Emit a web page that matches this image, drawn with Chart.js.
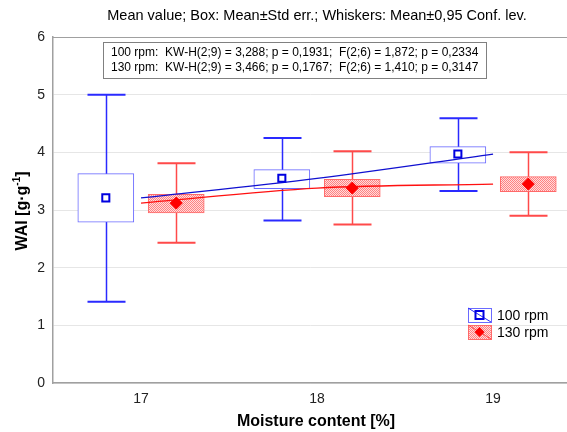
<!DOCTYPE html>
<html><head><meta charset="utf-8">
<script src="https://cdn.jsdelivr.net/npm/chart.js@4"></script>
<style>html,body{margin:0;padding:0;background:#fff;overflow:hidden}#wrap{width:567px;height:432px}</style>
</head><body><div id="wrap"><canvas id="c" width="567" height="432"></canvas></div>
<script>
const categories = [17, 18, 19];
const seriesNames = ['100 rpm', '130 rpm'];
const mean100 = [3.21, 3.55, 3.97];
const seLow100 = [2.79, 3.37, 3.81];
const seHigh100 = [3.63, 3.70, 4.10];
const ciLow100 = [1.41, 2.82, 3.33];
const ciHigh100 = [5.00, 4.25, 4.59];
const mean130 = [3.12, 3.38, 3.45];
const seLow130 = [2.95, 3.23, 3.32];
const seHigh130 = [3.27, 3.53, 3.58];
const ciLow130 = [2.43, 2.75, 2.90];
const ciHigh130 = [3.81, 4.02, 4.00];
const yTicks = [0, 1, 2, 3, 4, 5, 6];
const titleText = 'Mean value; Box: Mean\u00b1Std err.; Whiskers: Mean\u00b10,95 Conf. lev.';
const statLines = [
  '100 rpm:  KW-H(2;9) = 3,288; p = 0,1931;  F(2;6) = 1,872; p = 0,2334',
  '130 rpm:  KW-H(2;9) = 3,466; p = 0,1767;  F(2;6) = 1,410; p = 0,3147'
];
const shift = 0.2;

const BLUE = '#2a2aff', BLUEBOX = '#6a6aff', RED = '#ff4a4a', REDBOX = '#ff6a6a';

function makePattern() {
  const p = document.createElement('canvas');
  p.width = 2; p.height = 2;
  const g = p.getContext('2d');
  g.fillStyle = '#ffdcdc'; g.fillRect(0, 0, 2, 2);
  g.fillStyle = '#ff8282'; g.fillRect(0, 0, 1, 1); g.fillRect(1, 1, 1, 1);
  return document.getElementById('c').getContext('2d').createPattern(p, 'repeat');
}
const redPattern = makePattern();

const FONT = '"Liberation Sans", Arial, sans-serif';

const decor = {
  id: 'decor',
  beforeDatasetsDraw(chart) {
    const ctx = chart.ctx, x = chart.scales.x, y = chart.scales.y;
    const draw = (lo, hi, off, col) => {
      ctx.save(); ctx.strokeStyle = col;
      categories.forEach((c, i) => {
        const px = Math.round(x.getPixelForValue(c + off)) + 0.5;
        const pl = y.getPixelForValue(lo[i]), ph = y.getPixelForValue(hi[i]);
        ctx.lineWidth = 1.5;
        ctx.beginPath(); ctx.moveTo(px, pl); ctx.lineTo(px, ph); ctx.stroke();
        ctx.lineWidth = 2;
        ctx.beginPath(); ctx.moveTo(px - 19, pl); ctx.lineTo(px + 19, pl);
        ctx.moveTo(px - 19, ph); ctx.lineTo(px + 19, ph); ctx.stroke();
      });
      ctx.restore();
    };
    draw(ciLow100, ciHigh100, -shift, BLUE);
    draw(ciLow130, ciHigh130, shift, RED);
  },
  afterDraw(chart) {
    const ctx = chart.ctx, a = chart.chartArea;
    ctx.save();
    ctx.strokeStyle = '#a0a0a0'; ctx.lineWidth = 1;
    ctx.beginPath(); ctx.moveTo(a.left, a.top + 0.5); ctx.lineTo(a.right, a.top + 0.5); ctx.stroke();
    ctx.fillStyle = '#000'; ctx.font = '14.5px ' + FONT;
    ctx.textAlign = 'center'; ctx.textBaseline = 'middle';
    ctx.fillText(titleText, 317, 16);
    ctx.fillStyle = '#fff'; ctx.fillRect(103, 42, 383, 37);
    ctx.strokeStyle = '#808080'; ctx.lineWidth = 1;
    ctx.strokeRect(103.5, 42.5, 383, 36);
    ctx.fillStyle = '#000'; ctx.font = '12px ' + FONT; ctx.textAlign = 'left';
    ctx.fillText(statLines[0], 111, 53);
    ctx.fillText(statLines[1], 111, 68);
    ctx.font = 'bold 16px ' + FONT; ctx.textAlign = 'center';
    ctx.fillText('Moisture content [%]', 316, 422);
    ctx.save();
    ctx.translate(23, 211); ctx.rotate(-Math.PI / 2);
    const base = 'WAI [g\u00b7g', sup = '-1', end = ']';
    ctx.font = 'bold 16px ' + FONT;
    const w1 = ctx.measureText(base).width, w3 = ctx.measureText(end).width;
    ctx.font = 'bold 10px ' + FONT;
    const w2 = ctx.measureText(sup).width;
    let sx = -(w1 + w2 + w3) / 2;
    ctx.textAlign = 'left';
    ctx.font = 'bold 16px ' + FONT; ctx.fillText(base, sx, 0);
    ctx.font = 'bold 10px ' + FONT; ctx.fillText(sup, sx + w1, -6);
    ctx.font = 'bold 16px ' + FONT; ctx.fillText(end, sx + w1 + w2, 0);
    ctx.restore();
    const items = [
      {y: 308, fill: '#fff', stroke: BLUEBOX, line: BLUE, name: seriesNames[0], mk: 'sq'},
      {y: 325, fill: redPattern, stroke: REDBOX, line: RED, name: seriesNames[1], mk: 'dia'}
    ];
    items.forEach(it => {
      const lx = 468, w = 23, h = 14;
      ctx.fillStyle = it.fill; ctx.fillRect(lx, it.y, w, h);
      ctx.strokeStyle = it.stroke; ctx.lineWidth = 1;
      ctx.strokeRect(lx + 0.5, it.y + 0.5, w, h);
      ctx.strokeStyle = it.line; ctx.beginPath();
      ctx.moveTo(lx, it.y); ctx.lineTo(lx + w, it.y + h); ctx.stroke();
      const cx = lx + w / 2, cy = it.y + h / 2;
      if (it.mk === 'sq') {
        ctx.strokeStyle = '#0000e0'; ctx.lineWidth = 2; ctx.strokeRect(cx - 4, cy - 4, 8, 8);
      } else {
        ctx.fillStyle = '#ff0000'; ctx.beginPath();
        ctx.moveTo(cx, cy - 5); ctx.lineTo(cx + 5, cy); ctx.lineTo(cx, cy + 5); ctx.lineTo(cx - 5, cy); ctx.closePath(); ctx.fill();
      }
      ctx.fillStyle = '#000'; ctx.font = '14px ' + FONT; ctx.textAlign = 'left'; ctx.textBaseline = 'middle';
      ctx.fillText(it.name, 497, cy + 1);
    });
    ctx.restore();
  }
};

new Chart(document.getElementById('c'), {
  type: 'bar',
  data: {
    datasets: [
      {type: 'bar', label: seriesNames[0], order: 3, grouped: false, barThickness: 56,
        data: categories.map((c, i) => ({x: c - shift, y: [seLow100[i], seHigh100[i]]})),
        backgroundColor: '#ffffff', borderColor: BLUEBOX, borderWidth: 1, borderSkipped: false},
      {type: 'bar', label: seriesNames[1], order: 3, grouped: false, barThickness: 56,
        data: categories.map((c, i) => ({x: c + shift, y: [seLow130[i], seHigh130[i]]})),
        backgroundColor: redPattern, borderColor: REDBOX, borderWidth: 1, borderSkipped: false},
      {type: 'line', order: 2, data: categories.map((c, i) => ({x: c, y: mean100[i]})),
        borderColor: '#1010d0', borderWidth: 1.3, pointRadius: 0, fill: false, cubicInterpolationMode: 'monotone'},
      {type: 'line', order: 2, data: categories.map((c, i) => ({x: c, y: mean130[i]})),
        borderColor: '#ff1010', borderWidth: 1.3, pointRadius: 0, fill: false, cubicInterpolationMode: 'monotone'},
      {type: 'scatter', order: 1, data: categories.map((c, i) => ({x: c - shift, y: mean100[i]})),
        pointStyle: 'rect', pointRadius: 5, borderColor: '#0000e0', borderWidth: 2, backgroundColor: 'rgba(255,255,255,0)'},
      {type: 'scatter', order: 1, data: categories.map((c, i) => ({x: c + shift, y: mean130[i]})),
        pointStyle: 'rectRot', pointRadius: 6, borderColor: '#ff0000', borderWidth: 1, backgroundColor: '#ff0000'}
    ]
  },
  options: {
    responsive: false, animation: false, devicePixelRatio: 1,
    layout: {autoPadding: false, padding: {top: 37, right: 0, left: 0, bottom: 0}},
    plugins: {legend: {display: false}, tooltip: {enabled: false}, title: {display: false}},
    scales: {
      x: {type: 'linear', min: 16.5, max: 19.42, offset: false,
        afterBuildTicks: s => { s.ticks = categories.map(v => ({value: v})); },
        afterFit: s => { s.height = 49; s.paddingRight = 0; s.paddingLeft = 0; },
        grid: {display: false, drawTicks: false},
        border: {display: true, color: '#a0a0a0', width: 1.5},
        ticks: {padding: 8, color: '#222', font: {family: FONT, size: 14}}},
      y: {min: 0, max: 6,
        afterBuildTicks: s => { s.ticks = yTicks.map(v => ({value: v})); },
        afterFit: s => { s.width = 53; },
        grid: {color: '#e6e6e6', drawTicks: false, lineWidth: 1},
        border: {display: true, color: '#a0a0a0', width: 1.5},
        ticks: {padding: 8, color: '#222', font: {family: FONT, size: 14}}}
    }
  },
  plugins: [decor]
});
</script></body></html>
